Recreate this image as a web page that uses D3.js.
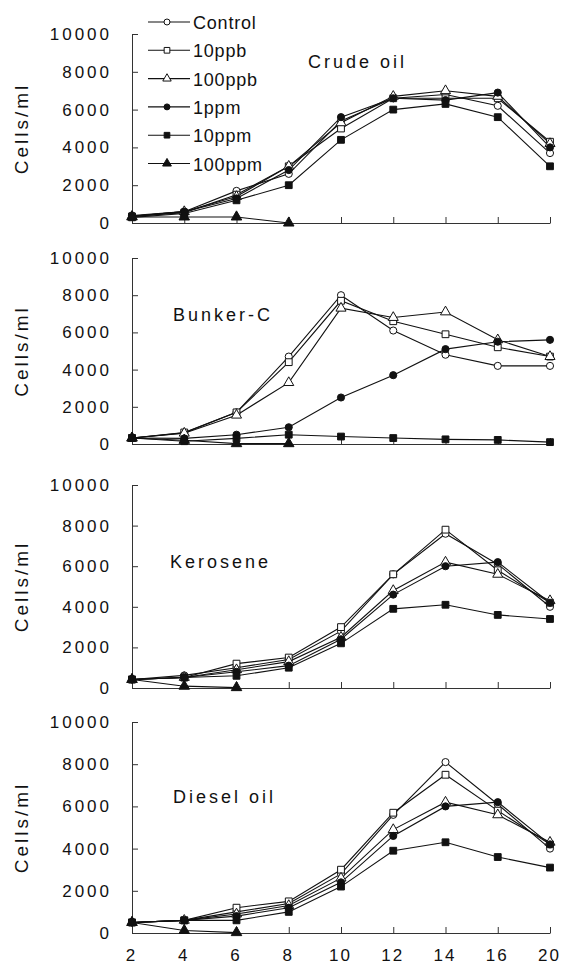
<!DOCTYPE html>
<html>
<head>
<meta charset="utf-8">
<script src="https://cdn.jsdelivr.net/npm/d3@7"></script>
<style>
  body { margin: 0; background: #fff; }
  text { font-family: Arial, "Liberation Sans", sans-serif; fill: #111; }
</style>
</head>
<body>
<div id="chart"></div>
<script>
// sampling days (category axis)
var days = ["2", "4", "6", "8", "10", "12", "14", "16", "20"];
var seriesNames = ["Control", "10ppb", "100ppb", "1ppm", "10ppm", "100ppm"];
var panelNames = ["Crude oil", "Bunker-C", "Kerosene", "Diesel oil"];
var yTicks = [0, 2000, 4000, 6000, 8000, 10000];

// cells/ml (100ppm stops once the culture dies)
var crudeControl = [400, 600, 1700, 2600, 5400, 6600, 6800, 6200, 3700];
var crude10ppb   = [350, 550, 1500, 3000, 5000, 6600, 6600, 6600, 4300];
var crude100ppb  = [350, 600, 1400, 3000, 5300, 6700, 7000, 6700, 4200];
var crude1ppm    = [350, 600, 1300, 2800, 5600, 6600, 6500, 6900, 4000];
var crude10ppm   = [300, 500, 1200, 2000, 4400, 6000, 6300, 5600, 3000];
var crude100ppm  = [320, 320, 320, 0];

var bunkerControl = [320, 600, 1700, 4700, 8000, 6100, 4800, 4200, 4200];
var bunker10ppb   = [320, 620, 1700, 4400, 7700, 6600, 5900, 5200, 4700];
var bunker100ppb  = [320, 580, 1550, 3300, 7300, 6800, 7100, 5600, 4700];
var bunker1ppm    = [320, 300, 500, 900, 2500, 3700, 5100, 5500, 5600];
var bunker10ppm   = [320, 150, 300, 500, 400, 320, 250, 220, 100];
var bunker100ppm  = [320, 200, 20, 20];

var keroControl = [420, 620, 1000, 1400, 2800, 5600, 7600, 6100, 4000];
var kero10ppb   = [420, 520, 1200, 1500, 3000, 5600, 7800, 5800, 4200];
var kero100ppb  = [420, 520, 900, 1300, 2500, 4800, 6200, 5600, 4300];
var kero1ppm    = [420, 520, 800, 1100, 2400, 4600, 6000, 6200, 4200];
var kero10ppm   = [420, 520, 600, 1000, 2200, 3900, 4100, 3600, 3400];
var kero100ppm  = [420, 90, 20];

var dieselControl = [500, 600, 1000, 1400, 2800, 5600, 8100, 6100, 4000];
var diesel10ppb   = [500, 600, 1200, 1500, 3000, 5700, 7500, 5800, 4200];
var diesel100ppb  = [500, 600, 900, 1300, 2600, 4900, 6200, 5600, 4300];
var diesel1ppm    = [500, 600, 800, 1200, 2400, 4600, 6000, 6200, 4200];
var diesel10ppm   = [500, 600, 600, 1000, 2200, 3900, 4300, 3600, 3100];
var diesel100ppm  = [500, 120, 20];

var panelData = [
  [crudeControl, crude10ppb, crude100ppb, crude1ppm, crude10ppm, crude100ppm],
  [bunkerControl, bunker10ppb, bunker100ppb, bunker1ppm, bunker10ppm, bunker100ppm],
  [keroControl, kero10ppb, kero100ppb, kero1ppm, kero10ppm, kero100ppm],
  [dieselControl, diesel10ppb, diesel100ppb, diesel1ppm, diesel10ppm, diesel100ppm]
];

// layout of the four stacked panels (scan is slightly uneven)
var panelTop    = [34, 258, 485, 722];
var panelBottom = [223, 444, 688, 933];
var titlePos = [[308, 68], [173, 321], [170, 568], [173, 803]];

var W = 562, H = 965;
var svg = d3.select("#chart").append("svg")
    .attr("width", W)
    .attr("height", H);

var x = d3.scalePoint().domain(days).range([132, 550]);

// marker styles per series
var markerType = [d3.symbolCircle, d3.symbolSquare, d3.symbolTriangle,
                  d3.symbolCircle, d3.symbolSquare, d3.symbolTriangle];
var markerSize = [40, 46, 44, 40, 46, 48];
var markerFill = ["#fff", "#fff", "#fff", "#111", "#111", "#111"];

function drawMarker(g, i, cx, cy, k) {
  g.append("path")
    .attr("d", d3.symbol().type(markerType[i]).size(markerSize[i] * (k || 1))())
    .attr("transform", "translate(" + cx + "," + cy + ")")
    .attr("fill", markerFill[i])
    .attr("stroke", "#111")
    .attr("stroke-width", 1);
}

panelData.forEach(function(series, p) {
  var y = d3.scaleLinear().domain([0, 10000]).range([panelBottom[p], panelTop[p]]);
  var g = svg.append("g");

  // y axis
  var yAxis = g.append("g")
    .attr("transform", "translate(" + x(days[0]) + ",0)")
    .call(d3.axisLeft(y).tickValues(yTicks).tickFormat(d3.format("d"))
      .tickSizeInner(-6).tickSizeOuter(0).tickPadding(20));
  yAxis.selectAll("text")
    .style("font-size", "17px")
    .style("letter-spacing", "3px")
    .attr("fill", "#111");

  // x axis, labels only on the bottom panel
  var xAxis = g.append("g")
    .attr("transform", "translate(0," + panelBottom[p] + ")")
    .call(d3.axisBottom(x).tickSizeInner(-6).tickSizeOuter(0).tickPadding(16));
  xAxis.selectAll("text")
    .style("font-size", "17px")
    .style("letter-spacing", "2px")
    .attr("dx", "-1px")
    .attr("fill", "#111")
    .style("display", p == 3 ? null : "none");
  g.selectAll(".domain, .tick line").attr("stroke", "#333");

  // y label
  g.append("text")
    .attr("transform", "translate(28," + (panelTop[p] + panelBottom[p]) / 2 + ") rotate(-90)")
    .attr("text-anchor", "middle")
    .style("font-size", "19px")
    .style("letter-spacing", "3px")
    .text("Cells/ml");

  // panel title
  g.append("text")
    .attr("x", titlePos[p][0])
    .attr("y", titlePos[p][1])
    .style("font-size", "18px")
    .style("letter-spacing", "3px")
    .text(panelNames[p]);

  var line = d3.line()
    .x(function(d, i) { return x(days[i]); })
    .y(function(d) { return y(d); });

  series.forEach(function(vals, s) {
    g.append("path")
      .datum(vals)
      .attr("d", line)
      .attr("fill", "none")
      .attr("stroke", "#111")
      .attr("stroke-width", 1.1);
  });
  series.forEach(function(vals, s) {
    vals.forEach(function(v, i) {
      drawMarker(g, s, x(days[i]), y(v));
    });
  });
});

// legend
var legend = svg.append("g");
seriesNames.forEach(function(name, i) {
  var ly = 22 + i * 28.3;
  legend.append("line")
    .attr("x1", 148).attr("x2", 190)
    .attr("y1", ly).attr("y2", ly)
    .attr("stroke", "#111")
    .attr("stroke-width", 1.1);
  drawMarker(legend, i, 167, ly, 0.7);
  legend.append("text")
    .attr("x", 193)
    .attr("y", ly + 7)
    .style("font-size", "18px")
    .style("letter-spacing", "0.8px")
    .text(name);
});
</script>
</body>
</html>
